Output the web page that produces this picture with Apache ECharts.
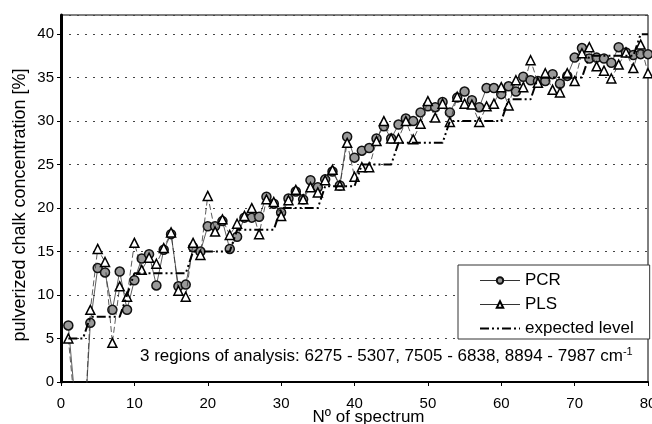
<!DOCTYPE html>
<html>
<head>
<meta charset="utf-8">
<script src="https://cdn.jsdelivr.net/npm/echarts@6/dist/echarts.min.js"></script>
<style>
  html, body { margin: 0; padding: 0; background: #fff; }
  #chart { width: 652px; height: 424px; }
</style>
</head>
<body>
<div id="chart"></div>
<script>
  var spectrum = [1, 2, 3, 4, 5, 6, 7, 8, 9, 10, 11, 12, 13, 14, 15, 16, 17, 18, 19, 20,
    21, 22, 23, 24, 25, 26, 27, 28, 29, 30, 31, 32, 33, 34, 35, 36, 37, 38, 39, 40,
    41, 42, 43, 44, 45, 46, 47, 48, 49, 50, 51, 52, 53, 54, 55, 56, 57, 58, 59, 60,
    61, 62, 63, 64, 65, 66, 67, 68, 69, 70, 71, 72, 73, 74, 75, 76, 77, 78, 79, 80];

  // spectra 2 and 3 fall below the axis (clipped)
  var pcr = [6.5, -3, -8, 6.8, 13.1, 12.6, 8.3, 12.7, 8.3, 11.7,
    14.2, 14.7, 11.1, 15.2, 17.0, 11.0, 11.2, 15.5, 15.0, 17.9,
    17.9, 18.5, 15.3, 16.7, 18.9, 18.9, 19.0, 21.3, 20.5, 19.5,
    21.1, 21.9, 21.0, 23.2, 22.4, 23.3, 24.2, 22.6, 28.2, 25.8,
    26.6, 26.9, 28.0, 29.4, 28.0, 29.6, 30.3, 30.0, 31.0, 31.7,
    31.6, 32.2, 31.0, 32.7, 33.4, 32.4, 31.6, 33.8, 33.8, 33.1,
    34.0, 33.4, 35.1, 34.7, 34.6, 34.6, 35.4, 34.3, 35.2, 37.3,
    38.4, 37.2, 37.3, 37.2, 36.7, 38.5, 37.9, 37.6, 37.7, 37.7];

  var pls = [5.0, -4, -9, 8.3, 15.3, 13.8, 4.5, 11.0, 9.8, 16.0,
    12.9, 14.3, 13.6, 15.4, 17.2, 10.5, 9.8, 16.0, 14.6, 21.4,
    17.3, 18.7, 16.9, 18.2, 19.1, 20.0, 17.0, 21.0, 20.7, 19.1,
    20.9, 22.1, 21.0, 22.4, 21.8, 23.2, 24.4, 22.6, 27.5, 23.6,
    24.7, 24.7, 27.7, 30.0, 28.0, 28.0, 30.0, 27.9, 29.7, 32.3,
    30.4, 32.0, 29.9, 32.8, 32.0, 31.9, 29.9, 31.7, 32.0, 33.9,
    31.8, 34.7, 33.9, 37.0, 34.4, 35.5, 33.6, 33.3, 35.5, 34.6,
    37.8, 38.5, 36.3, 35.8, 34.9, 36.5, 37.9, 36.1, 38.8, 35.5];

  var expected = [5, 5, 5, 7.5, 7.5, 7.5, 7.5, 7.5, 10, 12.5,
    12.5, 12.5, 12.5, 12.5, 12.5, 12.5, 12.5, 15, 15, 15,
    15, 15, 15, 17.5, 17.5, 17.5, 17.5, 17.5, 17.5, 20,
    20, 20, 20, 20, 20, 22.5, 22.5, 22.5, 22.5, 22.5,
    25, 25, 25, 25, 25, 27.5, 27.5, 27.5, 27.5, 27.5,
    27.5, 27.5, 30, 30, 30, 30, 30, 30, 30, 30,
    32.5, 32.5, 32.5, 32.5, 35, 35, 35, 35, 35, 35,
    35, 37.5, 37.5, 37.5, 37.5, 37.5, 37.5, 37.5, 40, 40];

  function pairs(ys) {
    return spectrum.map(function (x, i) { return [x, ys[i]]; });
  }

  var font = 'Liberation Sans, Arial, sans-serif';
  var myChart = echarts.init(document.getElementById('chart'));

  var option = {
    animation: false,
    textStyle: { fontFamily: font, color: '#000' },
    grid: {
      left: 61, right: 4, top: 15, bottom: 42,
      outerBoundsMode: 'none',
      containLabel: false,
      show: true, borderColor: '#000', borderWidth: 1
    },
    legend: {
      orient: 'vertical',
      left: 458, top: 265,
      padding: [7, 16, 2, 21],
      itemWidth: 40, itemHeight: 8, itemGap: 7,
      backgroundColor: '#fff',
      borderColor: '#333', borderWidth: 1,
      textStyle: { fontSize: 17, color: '#000', fontFamily: font },
      data: [
        { name: 'PCR', lineStyle: { width: 1 } },
        { name: 'PLS', lineStyle: { width: 1, type: 'solid' } },
        { name: 'expected level', itemStyle: { opacity: 0 } }
      ]
    },
    xAxis: {
      type: 'value',
      min: 0, max: 80, interval: 10,
      name: 'N\u00BA of spectrum',
      nameLocation: 'middle',
      nameGap: 27,
      nameMoveOverlap: false,
      nameTextStyle: { fontSize: 17, color: '#000', padding: [0, 0, 0, 28] },
      axisLine: { lineStyle: { color: '#000', width: 2 } },
      axisTick: { show: true, length: 4, lineStyle: { color: '#000' } },
      axisLabel: { fontSize: 15, color: '#000', margin: 14 },
      splitLine: { show: false }
    },
    yAxis: {
      type: 'value',
      min: 0, max: 42.2, interval: 5,
      axisLine: { show: true, lineStyle: { color: '#000', width: 3 } },
      axisTick: { show: true, length: 4, lineStyle: { color: '#000' } },
      axisLabel: { fontSize: 15, color: '#000', margin: 7, showMaxLabel: false },
      splitLine: { show: true, lineStyle: { color: '#444', width: 1, type: [2, 6] } }
    },
    graphic: [
      {
        type: 'text',
        x: 20, y: 205,
        rotation: Math.PI / 2,
        style: {
          text: 'pulverized chalk concentration [%]',
          fontSize: 18, fontFamily: font, fill: '#000',
          align: 'center', verticalAlign: 'middle'
        }
      },
      {
        type: 'text',
        left: 140, top: 346,
        style: {
          text: '{a|3 regions of analysis: 6275 - 5307, 7505 - 6838, 8894 - 7987 cm}{s|-1}',
          rich: {
            a: { fontSize: 17, fontFamily: font, fill: '#000', lineHeight: 20 },
            s: { fontSize: 11, fontFamily: font, fill: '#000', lineHeight: 20, padding: [0, 0, 9, 0] }
          }
        }
      }
    ],
    series: [
      {
        name: 'PCR',
        type: 'line',
        data: pairs(pcr),
        symbol: 'circle',
        symbolSize: 9,
        itemStyle: { color: '#999', borderColor: '#111', borderWidth: 1.5 },
        lineStyle: { color: '#333', width: 0.8 },
        z: 3
      },
      {
        name: 'PLS',
        type: 'line',
        data: pairs(pls),
        symbol: 'triangle',
        symbolSize: 9,
        itemStyle: { color: '#fff', borderColor: '#000', borderWidth: 1.5 },
        lineStyle: { color: '#333', width: 0.8, type: [6, 3] },
        z: 4
      },
      {
        name: 'expected level',
        type: 'line',
        data: pairs(expected),
        symbol: 'none',
        itemStyle: { color: '#000' },
        lineStyle: { color: '#000', width: 2, type: [9, 3, 2, 3, 2, 3] },
        z: 5
      }
    ]
  };

  myChart.setOption(option);
</script>
</body>
</html>
